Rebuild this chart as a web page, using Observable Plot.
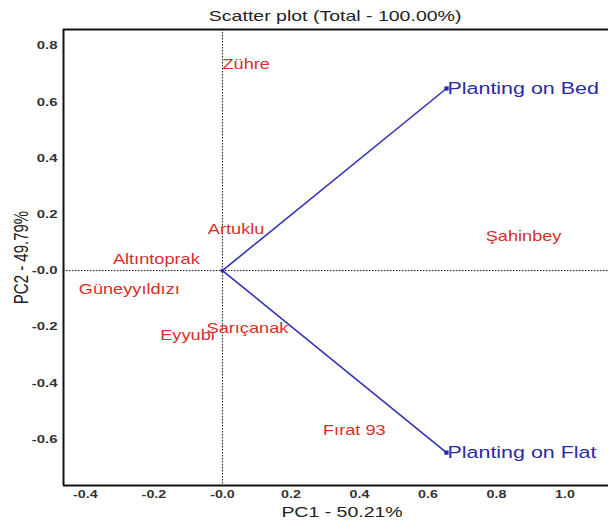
<!DOCTYPE html>
<html>
<head>
<meta charset="utf-8">
<script src="https://cdn.jsdelivr.net/npm/d3@7"></script>
<script src="https://cdn.jsdelivr.net/npm/@observablehq/plot@0.6"></script>
<style>
  html, body { margin: 0; padding: 0; background: #fff; overflow: hidden; }
  #title { width: 608px; height: 24px; box-sizing: border-box; padding-left: 63px; text-align: center;
           font: 15px "Liberation Sans", Arial, sans-serif; color: #222; line-height: 32px; }
  #title span { display: inline-block; transform: scaleX(1.3); }
  #chart { width: 608px; overflow: hidden; }
  #chart svg { display: block; max-width: none !important; width: 620px; height: 497px; }
</style>
</head>
<body>
<div id="title"><span>Scatter plot (Total - 100.00%)</span></div>
<div id="chart"></div>
<script>
// Cultivars (observations)
const cultivarNames = ["Zühre", "Artuklu", "Altıntoprak", "Güneyyıldızı", "Eyyubi", "Sarıçanak", "Fırat 93", "Şahinbey"];
const cultivarPC1   = [0.000, 0.040, -0.193, -0.272, -0.102, 0.073, 0.385, 0.879];
const cultivarPC2   = [0.733, 0.146, 0.039, -0.068, -0.231, -0.206, -0.569, 0.121];
const cultivarStartAligned = ["Zühre"];

// Variables (vectors)
const variableNames = ["Planting on Bed", "Planting on Flat"];
const variablePC1   = [0.654, 0.654];
const variablePC2   = [0.648, -0.648];

// Axes
const xDomain = [-0.464, 1.162];
const yDomain = [-0.765, 0.858];
const xTicks = [-0.4, -0.2, 0.0, 0.2, 0.4, 0.6, 0.8, 1.0];
const xTickLabels = ["-0.4", "-0.2", "-0.0", "0.2", "0.4", "0.6", "0.8", "1.0"];
const yTicks = [-0.6, -0.4, -0.2, 0.0, 0.2, 0.4, 0.6, 0.8];
const yTickLabels = ["-0.6", "-0.4", "-0.2", "-0.0", "0.2", "0.4", "0.6", "0.8"];
const xTitle = "PC1 - 50.21%";
const yTitle = "PC2 - 49.79%";

const cultivars = cultivarNames.map((n, i) => ({name: n, x: cultivarPC1[i], y: cultivarPC2[i]}));
const variables = variableNames.map((n, i) => ({name: n, x: variablePC1[i], y: variablePC2[i]}));
const isStart = d => cultivarStartAligned.includes(d.name);

const red = "#d62f2c";
const blue = "#2a2aa6";
const lineBlue = "#3030b4";
const font = "'Liberation Sans', Arial, sans-serif";
const STRETCH = 1.3;

const chart = Plot.plot({
  width: 620,
  height: 497,
  marginTop: 5,
  marginBottom: 36,
  marginLeft: 63,
  marginRight: 0,
  style: {fontFamily: font, background: "#fff"},
  x: {domain: xDomain},
  y: {domain: yDomain},
  marks: [
    Plot.axisX({ticks: xTicks, tickSize: 0, tickPadding: 5, tickFormat: d => xTickLabels[xTicks.indexOf(d)], fontSize: 11, fontWeight: "bold", fill: "#333", label: null}),
    Plot.axisY({ticks: yTicks, tickSize: 0, tickPadding: 6, tickFormat: d => yTickLabels[yTicks.indexOf(d)], fontSize: 11.5, fontWeight: "bold", fill: "#333", label: null}),
    Plot.ruleX([0], {stroke: "#111", strokeDasharray: "1.5,1.5", strokeWidth: 1}),
    Plot.ruleY([0], {stroke: "#111", strokeDasharray: "1.5,1.5", strokeWidth: 1}),
    Plot.ruleX([xDomain[0]], {stroke: "#111", strokeWidth: 2}),
    Plot.ruleY(yDomain, {stroke: "#111", strokeWidth: 2}),
    Plot.link(variables, {x1: () => 0, y1: () => 0, x2: "x", y2: "y", stroke: lineBlue, strokeWidth: 1.6}),
    Plot.dot(variables, {x: "x", y: "y", symbol: "square", r: 2.4, fill: blue}),
    Plot.dot([{x: 0, y: 0}], {x: "x", y: "y", symbol: "square", r: 2, fill: blue}),
    Plot.text(variables, {x: "x", y: "y", text: "name", textAnchor: "start", dx: 1, fill: blue, fontSize: 16.5}),
    Plot.text(cultivars.filter(d => !isStart(d)), {x: "x", y: "y", text: "name", textAnchor: "middle", fill: red, fontSize: 14}),
    Plot.text(cultivars.filter(isStart), {x: "x", y: "y", text: "name", textAnchor: "start", fill: red, fontSize: 14}),
    Plot.text([xTitle], {frameAnchor: "bottom", textAnchor: "middle", lineAnchor: "middle", dy: 27, fontSize: 15, fill: "#222"}),
    Plot.text([yTitle], {frameAnchor: "left", textAnchor: "middle", lineAnchor: "middle", dx: -42, rotate: -90, fontSize: 15, fill: "#222"})
  ]
});

// The reference image is horizontally stretched: widen every glyph run (in screen x) around its anchor
chart.querySelectorAll("text").forEach(el => {
  let t = el.getAttribute("transform") || "";
  if (!t) {
    const x = +el.getAttribute("x") || 0, y = +el.getAttribute("y") || 0;
    el.removeAttribute("x"); el.removeAttribute("y");
    t = `translate(${x},${y})`;
  }
  if (t.includes("rotate")) t = t.replace("rotate", `scale(${STRETCH},1) rotate`);
  else t = t + ` scale(${STRETCH},1)`;
  el.setAttribute("transform", t);
});
document.getElementById("chart").appendChild(chart);
</script>
</body>
</html>
